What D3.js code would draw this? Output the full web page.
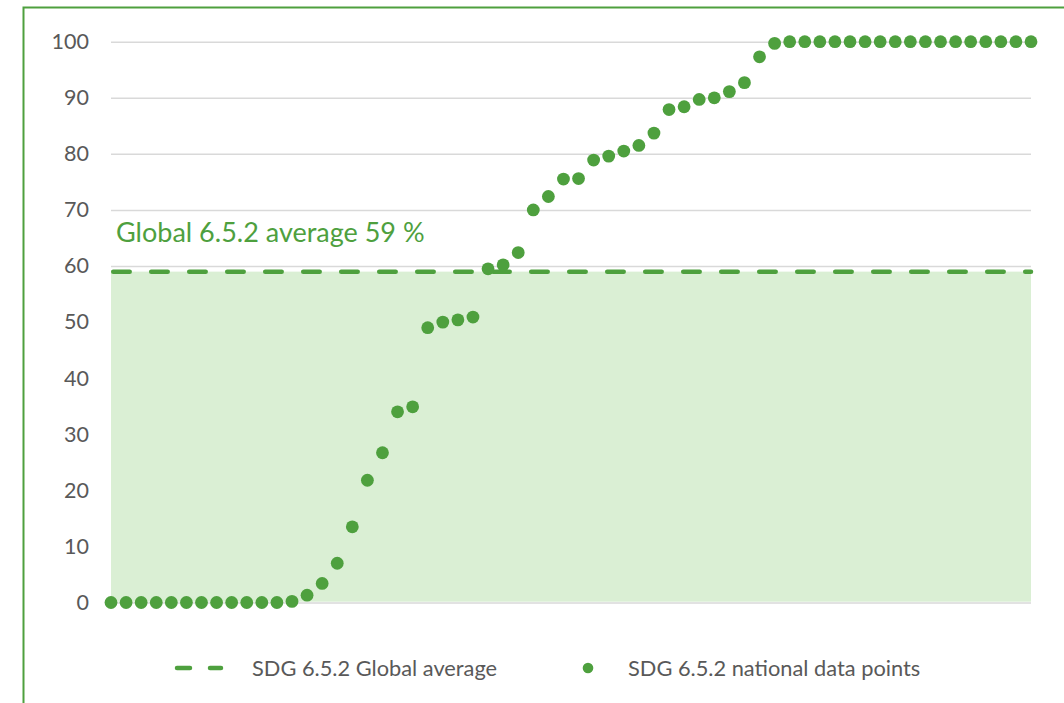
<!DOCTYPE html>
<html><head><meta charset="utf-8">
<script src="https://cdn.jsdelivr.net/npm/d3@7"></script>
<style>html,body{margin:0;padding:0;background:#fff;}svg{display:block;}</style>
</head><body>
<svg id="chart" width="1064" height="703"></svg>
<script>
// ---- data ----
const pointIndex = d3.range(1, 63);
const nationalValues = [
  0, 0, 0, 0, 0, 0, 0, 0, 0, 0, 0, 0, 0.2,
  1.3, 3.4, 7.0, 13.5, 21.8, 26.7, 34.0, 34.9, 49.0, 50.0, 50.4, 50.9,
  59.5, 60.2, 62.4, 70.0, 72.4, 75.5, 75.6, 78.9, 79.6, 80.5, 81.5, 83.7,
  87.9, 88.4, 89.7, 90.0, 91.1, 92.7, 97.3, 99.7,
  100, 100, 100, 100, 100, 100, 100, 100, 100, 100, 100, 100, 100, 100, 100, 100, 100
];
const globalAverage = 59;
const yTicks = [0, 10, 20, 30, 40, 50, 60, 70, 80, 90, 100];
const labelText = "Global 6.5.2 average 59 %";
const legendLabels = ["SDG 6.5.2 Global average", "SDG 6.5.2 national data points"];

// ---- styles ----
const green = "#4EA03E";
const fillGreen = "#DAEFD4";
const gridGray = "#D9D9D9";
const textGray = "#595959";
const font = "Lato, 'Open Sans', sans-serif";

const svg = d3.select("#chart");
const x = d3.scaleLinear().domain([1, 62]).range([111, 1031]);
const y = d3.scaleLinear().domain([0, 100]).range([602.5, 41.7]);

// frame
svg.append("path").attr("d", "M23.5,703 L23.5,7.5 L1064,7.5")
  .attr("fill", "none").attr("stroke", green).attr("stroke-width", 2);

// gridlines + tick labels
const yAxis = d3.axisLeft(y).tickValues(yTicks).tickSize(-(x(62) - x(1))).tickPadding(22)
  .tickFormat(d3.format("d"));
const gAxis = svg.append("g").attr("transform", `translate(${x(1)},0)`).call(yAxis);
gAxis.select(".domain").remove();
gAxis.selectAll(".tick line").attr("stroke", gridGray).attr("stroke-width", 1.5);
gAxis.selectAll(".tick text").attr("fill", textGray)
  .style("font-family", font).style("font-size", "21.5px");

// shaded area under global average (covers gridlines)
svg.append("rect")
  .attr("x", x(1)).attr("width", x(62) - x(1))
  .attr("y", y(globalAverage)).attr("height", y(0) - y(globalAverage) - 0.8)
  .attr("fill", fillGreen);

// dashed average line
svg.append("line")
  .attr("x1", x(1) + 2.2).attr("x2", x(62))
  .attr("y1", y(globalAverage)).attr("y2", y(globalAverage))
  .attr("stroke", green).attr("stroke-width", 4.5)
  .attr("stroke-linecap", "round").attr("stroke-dasharray", "16.5 21.5");

// label
svg.append("text").attr("x", 116).attr("y", 241.7)
  .attr("fill", green).style("font-family", font).style("font-size", "27px")
  .text(labelText);

// points
svg.append("g").selectAll("circle").data(nationalValues).join("circle")
  .attr("cx", (d, i) => x(pointIndex[i])).attr("cy", d => y(d))
  .attr("r", 6.4).attr("fill", green);

// legend
const lg = svg.append("g");
lg.append("line").attr("x1", 177).attr("x2", 221).attr("y1", 668).attr("y2", 668)
  .attr("stroke", green).attr("stroke-width", 4.5).attr("stroke-linecap", "round")
  .attr("stroke-dasharray", "13 20");
lg.append("text").attr("x", 252).attr("y", 668).attr("dy", "0.35em")
  .attr("fill", textGray).style("font-family", font).style("font-size", "21.8px")
  .text(legendLabels[0]);
lg.append("circle").attr("cx", 588).attr("cy", 668).attr("r", 5.3).attr("fill", green);
lg.append("text").attr("x", 628).attr("y", 668).attr("dy", "0.35em")
  .attr("fill", textGray).style("font-family", font).style("font-size", "21.8px")
  .text(legendLabels[1]);
</script>
</body></html>
